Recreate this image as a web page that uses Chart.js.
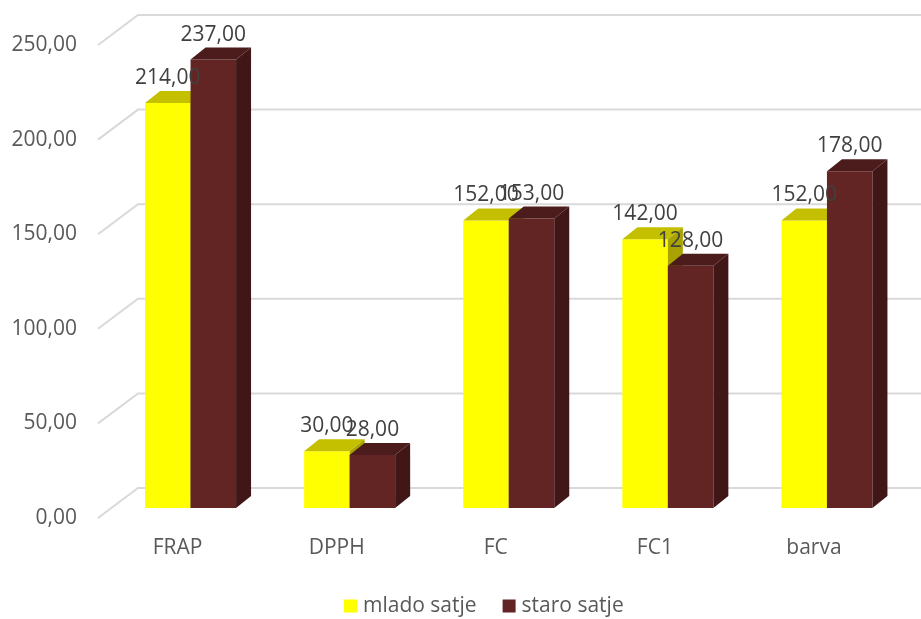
<!DOCTYPE html>
<html>
<head>
<meta charset="utf-8">
<script src="https://cdn.jsdelivr.net/npm/chart.js@4.4.1/dist/chart.umd.min.js"></script>
<style>
  html, body { margin: 0; padding: 0; background: #fff; }
  canvas { display: block; }
</style>
</head>
<body>
<canvas id="chart" width="921" height="619" style="width:921px;height:619px"></canvas>
<script>
var categories = ['FRAP', 'DPPH', 'FC', 'FC1', 'barva'];
var mladoSatje = [214, 30, 152, 142, 152];
var staroSatje = [237, 28, 153, 128, 178];
var seriesNames = ['mlado satje', 'staro satje'];
var yTicks = [0, 50, 100, 150, 200, 250];

// 3d look: bar depth, and the front / back planes of the grid
var barDx = 15, barDy = -12;
var frontDx = -13, frontDy = 10;
var backDx = 27, backDy = -20;

var faces = [
    { front: '#ffff00', top: '#c4c000', side: '#a8a300' },
    { front: '#632523', top: '#4b1c1b', side: '#401716' }
];

var FONT = '21px "Open Sans", "Noto Sans", sans-serif';

function fmt(v) {
    return v.toFixed(2).replace('.', ',');
}

function poly(ctx, pts, color) {
    ctx.beginPath();
    ctx.moveTo(pts[0][0], pts[0][1]);
    for (var i = 1; i < pts.length; i++) ctx.lineTo(pts[i][0], pts[i][1]);
    ctx.closePath();
    ctx.fillStyle = color;
    ctx.fill();
}

var box3d = {
    id: 'box3d',
    beforeDatasetsDraw: function (chart) {
        var ctx = chart.ctx, area = chart.chartArea, y = chart.scales.y;
        ctx.save();
        ctx.strokeStyle = '#d9d9d9';
        ctx.lineWidth = 2;
        ctx.font = FONT;
        ctx.fillStyle = '#595959';
        ctx.textAlign = 'right';
        ctx.textBaseline = 'middle';
        yTicks.forEach(function (v) {
            var py = y.getPixelForValue(v);
            ctx.beginPath();
            ctx.moveTo(area.left + frontDx, py + frontDy);
            ctx.lineTo(area.left + backDx, py + backDy);
            ctx.lineTo(chart.width, py + backDy);
            ctx.stroke();
            ctx.fillText(fmt(v), 77, py + frontDy);
        });
        ctx.restore();
    },
    // the bars themselves are transparent; draw every box here, series by series,
    // so that the second series covers the side of the first
    afterDatasetsDraw: function (chart) {
        var ctx = chart.ctx;
        ctx.save();
        chart.data.datasets.forEach(function (ds, di) {
            var c = faces[di];
            chart.getDatasetMeta(di).data.forEach(function (bar) {
                var p = bar.getProps(['x', 'y', 'base', 'width'], true);
                var l = p.x - p.width / 2, r = p.x + p.width / 2, t = p.y, b = p.base;
                poly(ctx, [[l, t], [r, t], [r, b], [l, b]], c.front);
                poly(ctx, [[l, t], [r, t], [r + barDx, t + barDy], [l + barDx, t + barDy]], c.top);
                poly(ctx, [[r, t], [r + barDx, t + barDy], [r + barDx, b + barDy], [r, b]], c.side);
            });
        });
        ctx.restore();
    },
    afterDraw: function (chart) {
        var ctx = chart.ctx, x = chart.scales.x;
        ctx.save();
        ctx.font = FONT;
        ctx.textBaseline = 'middle';
        ctx.textAlign = 'center';

        // value labels
        ctx.fillStyle = '#404040';
        chart.data.datasets.forEach(function (ds, di) {
            chart.getDatasetMeta(di).data.forEach(function (bar, i) {
                var p = bar.getProps(['x', 'y'], true);
                ctx.fillText(fmt(ds.data[i]), p.x, p.y - 25);
            });
        });

        // category labels
        ctx.fillStyle = '#595959';
        var base = chart.scales.y.getPixelForValue(0);
        categories.forEach(function (cat, i) {
            ctx.fillText(cat, x.getPixelForValue(i) - 13, base + 40);
        });

        // legend
        ctx.textAlign = 'left';
        var lx = 344, ly = 606;
        seriesNames.forEach(function (name, i) {
            ctx.fillStyle = faces[i].front;
            ctx.fillRect(lx, ly - 6.5, 13, 13);
            ctx.fillStyle = '#595959';
            ctx.fillText(name, lx + 19, ly);
            lx += 19 + ctx.measureText(name).width + 26;
        });
        ctx.restore();
    }
};

new Chart(document.getElementById('chart'), {
    type: 'bar',
    data: {
        labels: categories,
        datasets: [
            { label: seriesNames[0], data: mladoSatje, backgroundColor: 'rgba(0,0,0,0)' },
            { label: seriesNames[1], data: staroSatje, backgroundColor: 'rgba(0,0,0,0)' }
        ]
    },
    options: {
        responsive: false,
        animation: false,
        devicePixelRatio: 1,
        categoryPercentage: 0.572,
        barPercentage: 1.0,
        layout: { padding: { left: 111, right: 14.5, top: 35, bottom: 111 } },
        scales: {
            x: { display: false },
            y: { display: false, min: 0, max: 250 }
        },
        plugins: {
            legend: { display: false },
            tooltip: { enabled: false }
        }
    },
    plugins: [box3d]
});
</script>
</body>
</html>
